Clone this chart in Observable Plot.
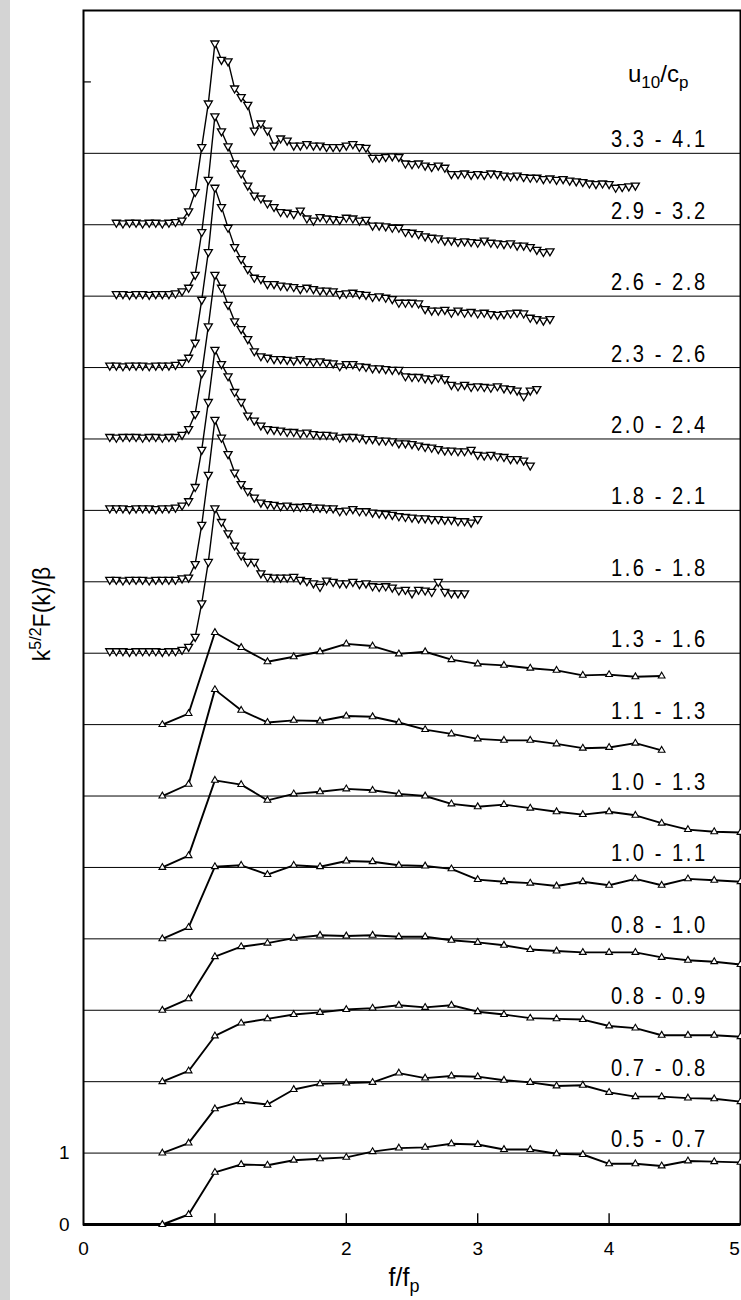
<!DOCTYPE html>
<html>
<head>
<meta charset="utf-8">
<script src="https://cdn.jsdelivr.net/npm/d3@7"></script>
<script src="https://cdn.jsdelivr.net/npm/@observablehq/plot@0.6"></script>
<style>
  body { margin: 0; background: #fff; }
  #wrap { position: relative; width: 741px; height: 1300px; overflow: hidden; background: #fff; }
  #strip { position: absolute; left: 0; top: 0; width: 10px; height: 1300px; background: #d4d4d4; }
  #wrap svg { position: absolute; left: 0; top: 0; }
</style>
</head>
<body>
<div id="wrap"><div id="strip"></div></div>
<script>
// Wave-number spectra k^{5/2}F(k)/β versus f/fp, one curve per u10/cp class,
// each curve shifted up by one unit above the next.

// u10/cp classes, top to bottom
const classes = ["3.3 - 4.1", "2.9 - 3.2", "2.6 - 2.8", "2.3 - 2.6", "2.0 - 2.4",
                 "1.8 - 2.1", "1.6 - 1.8", "1.3 - 1.6", "1.1 - 1.3", "1.0 - 1.3",
                 "1.0 - 1.1", "0.8 - 1.0", "0.8 - 0.9", "0.7 - 0.8", "0.5 - 0.7"];

// frequency grid of the densely sampled (young sea) spectra, f/fp
const fDense = [0.20,0.25,0.30,0.35,0.40,0.45,0.50,0.55,0.60,0.65,0.70,0.75,0.80,0.85,0.90,0.95,
  1.00,1.05,1.10,1.15,1.20,1.25,1.30,1.35,1.40,1.45,1.50,1.55,1.60,1.65,1.70,1.75,1.80,1.85,1.90,1.95,
  2.00,2.05,2.10,2.15,2.20,2.25,2.30,2.35,2.40,2.45,2.50,2.55,2.60,2.65,2.70,2.75,2.80,2.85,2.90,2.95,
  3.00,3.05,3.10,3.15,3.20,3.25,3.30,3.35,3.40,3.45,3.50,3.55,3.60,3.65,3.70,3.75,3.80,3.85,3.90,3.95,
  4.00,4.05,4.10,4.15,4.20];

// frequency grid of the coarsely sampled (mature sea) spectra, f/fp
const fCoarse = [0.6,0.8,1.0,1.2,1.4,1.6,1.8,2.0,2.2,2.4,2.6,2.8,3.0,3.2,3.4,3.6,3.8,4.0,4.2,4.4,4.6,4.8,5.0];

// first f/fp of each dense spectrum
const denseStart = [0.25, 0.25, 0.20, 0.20, 0.20, 0.20, 0.20];

// dense spectra (down triangles)
const s33_41 = [0.03,0.02,0.03,0.03,0.02,0.03,0.03,0.02,0.03,0.04,
  0.06,0.19,0.46,1.09,1.70,2.54,2.31,2.29,1.91,1.79,
  1.68,1.32,1.42,1.32,1.11,1.21,1.18,1.11,1.11,1.13,
  1.11,1.11,1.09,1.09,1.09,1.11,1.13,1.09,1.08,0.94,
  0.94,0.95,0.96,0.95,0.86,0.85,0.86,0.83,0.81,0.83,
  0.80,0.71,0.71,0.72,0.70,0.71,0.70,0.72,0.71,0.69,
  0.68,0.69,0.67,0.66,0.66,0.64,0.65,0.63,0.64,0.62,
  0.61,0.60,0.58,0.57,0.58,0.57,0.52,0.53,0.54,0.55];
const s29_32 = [0.03,0.03,0.02,0.03,0.03,0.02,0.03,0.03,0.03,0.04,
  0.07,0.12,0.30,0.90,1.63,2.52,2.31,2.10,1.86,1.72,
  1.55,1.41,1.37,1.30,1.25,1.18,1.17,1.15,1.20,1.09,
  1.06,1.11,1.09,1.08,1.07,1.10,1.09,1.06,1.07,0.99,
  0.99,0.98,0.96,0.96,0.90,0.89,0.87,0.84,0.82,0.81,
  0.78,0.78,0.76,0.77,0.76,0.75,0.78,0.75,0.74,0.73,
  0.74,0.71,0.71,0.69,0.65,0.62,0.63];
const s26_28 = [0.03,0.03,0.02,0.03,0.03,0.03,0.02,0.03,0.03,0.03,
  0.04,0.07,0.14,0.35,0.95,1.62,2.52,2.25,1.96,1.69,
  1.52,1.38,1.26,1.24,1.17,1.17,1.15,1.14,1.13,1.10,
  1.12,1.10,1.08,1.08,1.07,1.03,1.04,1.05,1.03,1.02,
  0.99,1.00,0.98,0.96,0.91,0.91,0.91,0.90,0.82,0.80,
  0.80,0.81,0.77,0.80,0.77,0.78,0.76,0.77,0.75,0.74,
  0.75,0.76,0.77,0.76,0.70,0.68,0.66,0.68];
const s23_26 = [0.03,0.02,0.03,0.03,0.03,0.02,0.03,0.03,0.02,0.03,
  0.03,0.06,0.14,0.35,0.92,1.58,2.30,2.12,1.88,1.65,
  1.54,1.40,1.23,1.16,1.14,1.12,1.12,1.11,1.10,1.12,
  1.09,1.08,1.09,1.07,1.06,1.02,1.05,1.05,1.02,1.01,
  0.99,0.99,0.98,0.97,0.97,0.88,0.87,0.87,0.85,0.84,
  0.86,0.84,0.76,0.74,0.76,0.73,0.74,0.73,0.72,0.74,
  0.71,0.70,0.68,0.60,0.68,0.70];
const s20_24 = [0.03,0.03,0.03,0.02,0.03,0.03,0.03,0.02,0.03,0.03,
  0.04,0.07,0.13,0.33,0.85,1.52,2.25,2.05,1.88,1.66,
  1.52,1.33,1.26,1.19,1.14,1.13,1.12,1.10,1.10,1.08,
  1.09,1.07,1.06,1.06,1.05,1.02,1.03,1.03,1.02,1.00,
  1.00,0.98,0.98,0.97,0.94,0.94,0.93,0.91,0.89,0.88,
  0.86,0.84,0.84,0.83,0.83,0.85,0.78,0.77,0.78,0.76,
  0.75,0.72,0.72,0.70,0.63];
const s18_21 = [0.03,0.03,0.02,0.03,0.03,0.03,0.02,0.03,0.03,0.03,
  0.03,0.05,0.06,0.25,0.80,1.50,2.27,2.02,1.79,1.53,
  1.37,1.27,1.18,1.11,1.09,1.08,1.06,1.07,1.05,1.05,
  1.06,1.04,1.04,1.03,1.03,0.99,1.00,1.02,0.99,0.99,
  0.97,0.96,0.95,0.94,0.92,0.91,0.90,0.89,0.89,0.88,
  0.88,0.87,0.87,0.85,0.85,0.83,0.88];
const s16_18 = [0.03,0.03,0.03,0.02,0.03,0.03,0.03,0.03,0.02,0.03,
  0.03,0.05,0.09,0.23,0.70,1.28,2.03,1.84,1.68,1.51,
  1.37,1.28,1.28,1.12,1.07,1.06,1.06,1.06,1.07,1.03,
  1.01,0.98,0.93,1.02,1.00,0.98,0.98,1.00,0.97,0.98,
  0.94,0.93,0.94,0.92,0.88,0.89,0.84,0.89,0.88,0.86,
  1.00,0.86,0.84,0.84,0.84];

// coarse spectra (up triangles)
const s13_16 = [0,0.155,1.29,1.08,0.88,0.95,1.02,1.13,1.10,0.99,1.02,0.91,0.85,0.83,0.79,0.76,0.69,0.70,0.67,0.68];
const s11_13 = [0,0.165,1.49,1.20,1.03,1.06,1.05,1.12,1.11,1.03,0.93,0.87,0.80,0.78,0.78,0.73,0.67,0.68,0.74,0.64];
const s10_13 = [0,0.165,1.22,1.16,0.94,1.03,1.06,1.10,1.08,1.03,1.00,0.89,0.85,0.88,0.83,0.78,0.74,0.78,0.73,0.62,0.53,0.50,0.49];
const s10_11 = [0,0.16,1.01,1.03,0.90,1.03,1.01,1.09,1.08,1.03,1.02,0.98,0.83,0.80,0.78,0.74,0.80,0.75,0.84,0.75,0.84,0.82,0.80];
const s08_10 = [0,0.16,0.75,0.89,0.94,1.01,1.05,1.04,1.05,1.03,1.03,0.98,0.95,0.91,0.85,0.83,0.81,0.81,0.81,0.74,0.70,0.68,0.64];
const s08_09 = [0,0.15,0.64,0.82,0.88,0.94,0.97,1.01,1.03,1.07,1.04,1.07,0.98,0.94,0.89,0.88,0.87,0.78,0.75,0.65,0.65,0.65,0.63];
const s07_08 = [0,0.14,0.62,0.72,0.68,0.89,0.97,0.98,0.99,1.12,1.05,1.08,1.07,1.02,0.99,0.94,0.95,0.85,0.79,0.79,0.77,0.76,0.72];
const s05_07 = [0,0.14,0.73,0.84,0.83,0.90,0.92,0.94,1.02,1.07,1.08,1.13,1.12,1.05,1.05,0.99,0.98,0.85,0.85,0.82,0.89,0.88,0.87];

const denseSeries = [s33_41, s29_32, s26_28, s23_26, s20_24, s18_21, s16_18];
const coarseSeries = [s13_16, s11_13, s10_13, s10_11, s08_10, s08_09, s07_08, s05_07];

// axis ticks
const xTickLabels = [0, 2, 3, 4];
const xEndLabel = [5];
const xTickMarks = [1, 2, 3, 4];
const yTickLabels = [0, 1];

// ---- build tidy rows: each curve sits `shift` units above the bottom one
const nCurves = classes.length;
const denseRows = [];
denseSeries.forEach((vals, i) => {
  const shift = nCurves - 1 - i;
  const i0 = fDense.findIndex(f => Math.abs(f - denseStart[i]) < 1e-9);
  vals.forEach((v, j) => denseRows.push({series: classes[i], f: fDense[i0 + j], y: shift + v}));
});
const coarseRows = [];
coarseSeries.forEach((vals, k) => {
  const i = denseSeries.length + k;
  const shift = nCurves - 1 - i;
  vals.forEach((v, j) => coarseRows.push({series: classes[i], f: fCoarse[j], y: shift + v}));
});
// reference rules one unit above each curve's base carry the class labels
const labelRows = classes.map((c, i) => ({label: c, level: nCurves - i}));

const FONT = "'Liberation Sans', Arial, Helvetica, sans-serif";
const labelF = 4.75;
const fmt = d => String(d);

const chart = Plot.plot({
  width: 741,
  height: 1300,
  marginLeft: 83,
  marginRight: 1,
  marginTop: 10,
  marginBottom: 76,
  x: {domain: [0, 5]},
  y: {domain: [0, 17]},
  style: {fontFamily: FONT, fontSize: "19px", color: "#000", background: "transparent", overflow: "hidden"},
  marks: [
    Plot.ruleY(labelRows, {y: "level", stroke: "#000", strokeWidth: 1}),
    Plot.ruleX(xTickMarks, {x: d => d, y1: 0, y2: 0.15, stroke: "#000", strokeWidth: 1.4}),
    Plot.ruleY([16], {y: d => d, x1: 0, x2: 0.06, stroke: "#000", strokeWidth: 1.2}),
    Plot.frame({stroke: "#000", strokeWidth: 2}),
    Plot.ruleY([0], {stroke: "#000", strokeWidth: 3}),
    Plot.axisX({ticks: xTickLabels, tickFormat: fmt, tickSize: 0, tickPadding: 17, label: null, fontSize: 19}),
    Plot.axisX({ticks: xEndLabel, tickFormat: fmt, tickSize: 0, tickPadding: 17, label: null, fontSize: 19, dx: -6}),
    Plot.axisY({ticks: yTickLabels, tickFormat: fmt, tickSize: 0, tickPadding: 14, label: null, fontSize: 19}),
    Plot.line(denseRows, {x: "f", y: "y", z: "series", stroke: "#000", strokeWidth: 1.4}),
    Plot.dot(denseRows, {x: "f", y: "y", symbol: "triangle", rotate: 180, r: 3.0,
                         fill: "#fff", stroke: "#000", strokeWidth: 1.3}),
    Plot.line(coarseRows, {x: "f", y: "y", z: "series", stroke: "#000", strokeWidth: 1.9}),
    Plot.dot(coarseRows, {x: "f", y: "y", symbol: "triangle", r: 2.5,
                          fill: "#fff", stroke: "#000", strokeWidth: 1.1}),
    Plot.text(labelRows, {x: () => labelF, y: "level", text: "label", textAnchor: "end",
                          lineAnchor: "bottom", dy: -6, fontSize: 24})
  ]
});

document.getElementById("wrap").appendChild(chart);

// class labels: narrow, tracked-out digits as in the typeset original
d3.select(chart).selectAll('g[aria-label="text"] text').each(function () {
  const t = d3.select(this);
  const tr = t.attr("transform");
  if (tr && tr.includes("translate")) {
    t.attr("transform", tr + " scale(0.84,1)");
  } else {
    const x = +t.attr("x") || 0, y = +t.attr("y") || 0;
    t.attr("x", null).attr("y", null)
     .attr("transform", `${tr || ""} translate(${x},${y}) scale(0.84,1)`);
  }
  t.style("letter-spacing", "3px");
});

const svg = d3.select(chart);

// legend header u10/cp
const hdr = svg.append("text")
  .attr("x", 628).attr("y", 82).attr("text-anchor", "start")
  .attr("font-family", FONT).attr("font-size", 24).attr("fill", "#000");
hdr.append("tspan").text("u");
hdr.append("tspan").attr("dy", 6).attr("font-size", 17).text("10");
hdr.append("tspan").attr("dy", -6).text("/c");
hdr.append("tspan").attr("dy", 6).attr("font-size", 17).text("p");

// y axis title k^{5/2}F(k)/β
const yt = svg.append("text")
  .attr("transform", "translate(50,614) rotate(-90)")
  .attr("text-anchor", "middle")
  .attr("font-family", FONT).attr("font-size", 23).attr("fill", "#000");
yt.append("tspan").text("k");
yt.append("tspan").attr("dy", -9).attr("font-size", 16).text("5/2");
yt.append("tspan").attr("dy", 9).text("F(k)/β");

// x axis title f/fp
const xt = svg.append("text")
  .attr("x", 404).attr("y", 1286).attr("text-anchor", "middle")
  .attr("font-family", FONT).attr("font-size", 25).attr("fill", "#000");
xt.append("tspan").text("f/f");
xt.append("tspan").attr("dy", 6).attr("font-size", 18).text("p");
</script>
</body>
</html>
